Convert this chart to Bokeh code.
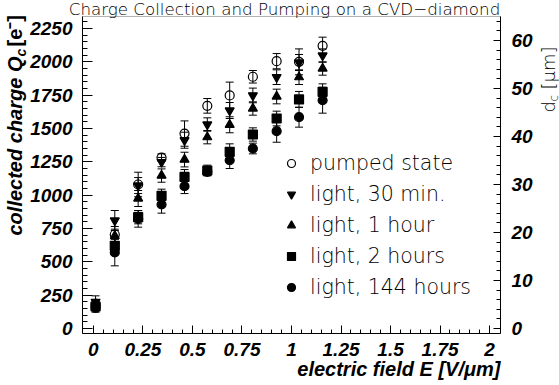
import math

from bokeh.embed import file_html
from bokeh.models import (BoxAnnotation, ColumnDataSource, FixedTicker, Label, Legend,
                          LegendItem, LinearAxis, Range1d, TeeHead, Whisker)
from bokeh.plotting import figure
from bokeh.resources import INLINE

# electric field E [V/um] at which the collected charge was measured
field = [0.011, 0.108, 0.226, 0.344, 0.46, 0.575, 0.688, 0.805, 0.925, 1.038, 1.157]

# collected charge Q_c [e-] and its uncertainty for each state of the sample
q_pumped = [180, 705, 1080, 1282, 1462, 1670, 1748, 1888, 2005, 2000, 2120]
e_pumped = [35, 60, 92, 28, 95, 55, 100, 47, 57, 97, 65]

q_30min = [200, 810, 1072, 1248, 1412, 1530, 1635, 1748, 1885, 1995, 2047]
e_30min = [45, 75, 60, 35, 60, 50, 60, 55, 55, 60, 50]

q_1hour = [185, 695, 975, 1147, 1267, 1435, 1528, 1650, 1740, 1885, 1950]
e_1hour = [30, 50, 60, 50, 55, 50, 60, 50, 55, 55, 50]

q_2hours = [165, 620, 835, 995, 1137, 1185, 1325, 1455, 1575, 1718, 1775]
e_2hours = [30, 50, 50, 50, 55, 40, 60, 50, 55, 60, 60]

q_144hours = [155, 570, 822, 930, 1067, 1175, 1262, 1350, 1480, 1585, 1712]
e_144hours = [33, 100, 62, 65, 55, 28, 62, 40, 83, 75, 97]

series_labels = ["pumped state", "light, 30 min.", "light, 1 hour",
                 "light, 2 hours", "light, 144 hours"]
series_markers = ["circle", "inverted_triangle", "triangle", "square", "circle"]
series_filled = [False, True, True, True, True]
series_q = [q_pumped, q_30min, q_1hour, q_2hours, q_144hours]
series_err = [e_pumped, e_30min, e_1hour, e_2hours, e_144hours]

x_ticks = [0, 0.25, 0.5, 0.75, 1, 1.25, 1.5, 1.75, 2]
x_tick_labels = ["0", "0.25", "0.5", "0.75", "1", "1.25", "1.5", "1.75", "2"]
x_minor_ticks = [i * 0.05 for i in range(41)]

y_ticks = [0, 250, 500, 750, 1000, 1250, 1500, 1750, 2000, 2250]
y_minor_ticks = [i * 50 for i in range(47)]

dc_ticks = [0, 10, 20, 30, 40, 50, 60]
dc_minor_ticks = [i * 2 for i in range(33)]

# charge created per micrometre of collection distance in diamond
E_PER_UM = 36.0

# plot box in data units
X_LO, X_HI = -0.055, 2.055
Y_LO, Y_HI = -37.5, 2340.0

# page size and where the plot box sits on it (pixels)
W, H = 559, 385
BOX_L, BOX_R, BOX_T, BOX_B = 82, 500, 16, 333

# the frame fills the whole page so that texts around the box stay visible;
# the ranges are widened so that the box lands at the pixels above
px_x = (X_HI - X_LO) / (BOX_R - BOX_L)
px_y = (Y_HI - Y_LO) / (BOX_B - BOX_T)
x_view = (X_LO - BOX_L * px_x, X_HI + (W - BOX_R) * px_x)
y_view = (Y_LO - (H - BOX_B) * px_y, Y_HI + BOX_T * px_y)

BOLD_FONT = "Liberation Sans"
THIN_FONT = "DejaVu Sans Light"

p = figure(width=W, height=H, output_backend="svg", toolbar_location=None,
           x_range=Range1d(*x_view), y_range=Range1d(*y_view),
           min_border=0)
p.grid.visible = False
p.outline_line_color = None
p.background_fill_color = "white"
p.border_fill_color = "white"

p.extra_y_ranges = {"dc": Range1d(y_view[0] / E_PER_UM, y_view[1] / E_PER_UM)}


def style_axis(ax, major_in, minor_in, standoff):
    ax.axis_line_color = "black"
    ax.major_tick_line_color = "black"
    ax.minor_tick_line_color = "black"
    ax.major_tick_in = major_in
    ax.major_tick_out = 0
    ax.minor_tick_in = minor_in
    ax.minor_tick_out = 0
    ax.major_label_text_font = BOLD_FONT
    ax.major_label_text_font_style = "bold italic"
    ax.major_label_text_font_size = "19px"
    ax.major_label_text_color = "black"
    ax.major_label_standoff = standoff
    ax.axis_label = None


xaxis = p.xaxis[0]
xaxis.ticker = FixedTicker(ticks=x_ticks, minor_ticks=x_minor_ticks)
xaxis.major_label_overrides = dict(zip(x_ticks, x_tick_labels))
xaxis.fixed_location = Y_LO
xaxis.bounds = (X_LO, X_HI)
style_axis(xaxis, 8, 4, 9)

yaxis = p.yaxis[0]
yaxis.ticker = FixedTicker(ticks=y_ticks, minor_ticks=y_minor_ticks)
yaxis.fixed_location = X_LO
yaxis.bounds = (Y_LO, Y_HI)
style_axis(yaxis, 10, 5, 10)

raxis = LinearAxis(y_range_name="dc",
                   ticker=FixedTicker(ticks=dc_ticks, minor_ticks=dc_minor_ticks))
raxis.fixed_location = X_HI
raxis.bounds = (Y_LO / E_PER_UM, Y_HI / E_PER_UM)
style_axis(raxis, 7, 4, 11)
p.add_layout(raxis, "right")

# closed box around the plotting area
p.add_layout(BoxAnnotation(left=X_LO, right=X_HI, bottom=Y_LO, top=Y_HI,
                           fill_alpha=0, line_color="black", line_width=1))

legend_items = []
for label, marker, filled, q, err in zip(series_labels, series_markers, series_filled,
                                         series_q, series_err):
    src = ColumnDataSource(dict(
        x=field, y=q,
        upper=[v + e for v, e in zip(q, err)],
        lower=[v - e for v, e in zip(q, err)],
    ))
    p.add_layout(Whisker(source=src, base="x", upper="upper", lower="lower",
                         dimension="height", line_color="black", line_width=1,
                         upper_head=TeeHead(size=8, line_color="black", line_width=1),
                         lower_head=TeeHead(size=8, line_color="black", line_width=1)))
    r = p.scatter(x="x", y="y", source=src, marker=marker, size=9,
                  line_color="black", line_width=1.2,
                  fill_color="black" if filled else None)
    legend_items.append(LegendItem(label=label, renderers=[r]))

legend = Legend(items=legend_items, location=(281, 86), padding=0, margin=0,
                spacing=7, glyph_width=20, glyph_height=24, label_height=24,
                label_standoff=9, border_line_alpha=0, background_fill_alpha=0,
                label_text_font=THIN_FONT, label_text_font_size="20.5px",
                label_text_color="black")
p.add_layout(legend)


def note(text, cx, cy, size, font, style="normal", align="left", angle=0.0,
         baseline="middle"):
    # cx, cy: page pixels from the top-left corner
    p.add_layout(Label(x=cx, y=H - cy, x_units="screen", y_units="screen",
                       text=text, text_font=font, text_font_style=style,
                       text_font_size=size, text_align=align, text_baseline=baseline,
                       angle=angle, text_color="black"))


note("Charge Collection and Pumping on a CVD\u2212diamond", 284, 8, "16.7px", THIN_FONT,
     align="center")

note("electric field E [V/\u03bcm]", 500, 368, "20px", BOLD_FONT, style="bold italic",
     align="right")

up = math.pi / 2
note("collected charge Q", 14, 235, "20px", BOLD_FONT, style="bold italic", angle=up)
note("c", 20, 56, "14px", BOLD_FONT, style="bold italic", angle=up)
note("[e\u207b]", 14, 46, "20px", BOLD_FONT, style="bold", angle=up)

note("d", 548, 112, "18px", THIN_FONT, angle=up)
note("c", 553, 101, "12px", THIN_FONT, angle=up)
note("[\u03bcm]", 548, 89, "18px", THIN_FONT, angle=up)

open("out.html", "w").write(file_html(p, INLINE))
